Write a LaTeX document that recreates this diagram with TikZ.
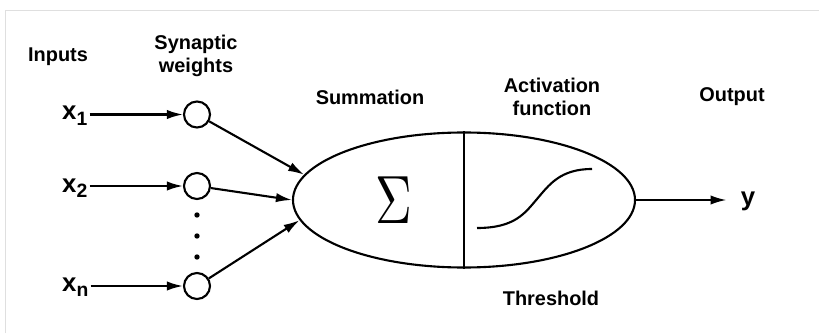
\documentclass[tikz,border=0pt]{standalone}
\usepackage{fontspec}
\setmainfont{Liberation Sans}
\usetikzlibrary{arrows.meta,shapes.geometric}
\tikzset{
	lbl/.style={font=\fontsize{17}{20}\selectfont\bfseries, align=center},
	var/.style={font=\fontsize{22}{24}\selectfont\bfseries, inner sep=1pt},
	wt/.style={draw, circle, minimum size=0.78cm, inner sep=0pt},
	sig/.style={-{Latex[length=4.8mm,width=2.8mm]}}
}
\newcommand{\xsub}[1]{x\raisebox{-4.5pt}{\fontsize{16.5}{16.5}\selectfont #1}}

\begin{document}
\begin{tikzpicture}[x=0.03cm, y=0.03cm, line width=1.8pt]
			%%%%% START %%%%%
			\useasboundingbox (0,0) rectangle (819,333);
			\draw[gray!25, line width=0.8pt] (5,0) -- (5,323) -- (819,323);
			
			\node[lbl] (inputs) at (58,276) {Inputs};
			\node[lbl] (synw) at (196,277) {Synaptic\\weights};
			\node[lbl] (summ) at (370,236) {Summation};
			\node[lbl] (actf) at (552,236) {Activation\\function};
			\node[lbl] (outp) at (732,236) {Output};
			\node[lbl] (thr) at (551,35) {Threshold};
			
			\node[var, anchor=base west] (x1) at (60,213) {\xsub{1}};
			\node[var, anchor=base west] (x2) at (60,141) {\xsub{2}};
			\node[var, anchor=base west] (xn) at (60,42) {\xsub{n}};
			
			\node[wt] (w1) at (197,218.5) {};
			\node[wt] (w2) at (197,147) {};
			\node[wt] (wn) at (197,47) {};
			\foreach \yy in {118,97,76}
				\fill (197,\yy) circle (2.3pt);
			
			\draw[sig] (x1.east |- w1) -- (w1.west);
			\draw[sig] (x2.east |- w2) -- (w2.west);
			\draw[sig] (xn.east |- wn) -- (wn.west);
			
			\node[draw, ellipse, minimum width=10.26cm, minimum height=4.05cm, inner sep=0pt] (neuron) at (464,133) {};
			\draw (neuron.north) -- (neuron.south);
			
			\draw[sig] (w1) -- (neuron.171);
			\draw[sig] (w2) -- (neuron.180);
			\draw[sig] (wn) -- (neuron.187);
			
			\node (sigma) at (394,133) {\resizebox{1.1cm}{1.4cm}{$\Sigma$}};
			\draw (477,105) .. controls (515,105) and (525,120) .. (537,134) .. controls (549,148) and (560,164) .. (592,164);
			
			\node[var, anchor=base] (y) at (748,128) {y};
			\draw[sig, shorten >=3.6mm] (neuron.east) -- (neuron.east -| y.west);
			%%%%% END %%%%%
\end{tikzpicture}
\end{document}
